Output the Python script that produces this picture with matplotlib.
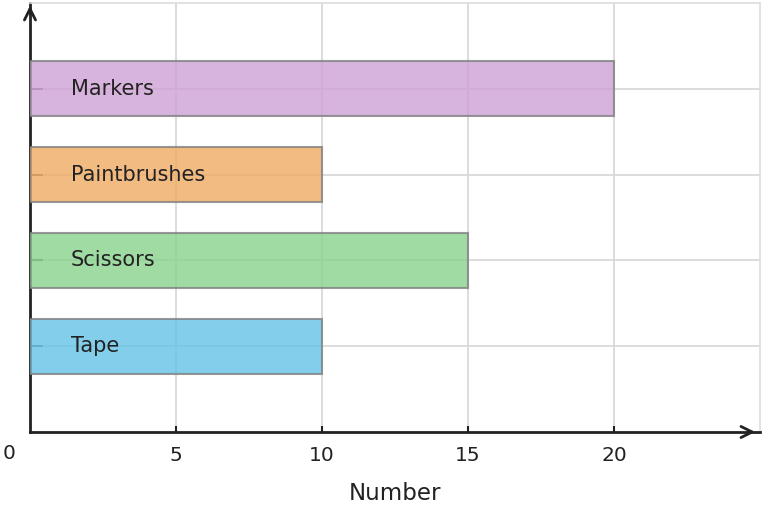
import matplotlib
matplotlib.use("Agg")
import matplotlib.pyplot as plt

# data
items = ["Tape", "Scissors", "Paintbrushes", "Markers"]
counts = [10, 15, 10, 20]
colors = ["#64c4e6", "#88d28c", "#efaa63", "#cea1d6"]
xticks = [5, 10, 15, 20]

fig = plt.figure(figsize=(7.63, 5.08), dpi=100)
ax = fig.add_axes([0.0393, 0.1496, 0.957, 0.8445])

pos = list(range(len(items)))
ax.barh(pos, counts, height=0.64, color=colors, alpha=0.8,
        edgecolor="#808080", linewidth=1.5, zorder=3)

for p, name in zip(pos, items):
    ax.text(1.4, p, name, va="center", ha="left", fontsize=15,
            color="#222222", zorder=4)

ax.set_xlim(0, 25)
ax.set_ylim(-1, 4)
ax.set_xticks(xticks)
ax.set_yticks(pos)
ax.set_yticklabels([])
ax.tick_params(axis="x", direction="in", length=4, width=1.5, colors="#222222",
               labelsize=14.5, pad=10)
ax.tick_params(axis="y", direction="in", length=9, width=1.5, colors="#666666")
ax.grid(True, color="#d9d9d9", linewidth=1.3, zorder=0)
ax.set_axisbelow(True)

for s in ["top", "right"]:
    ax.spines[s].set_color("#dddddd")
    ax.spines[s].set_linewidth(1.2)
for s in ["left", "bottom"]:
    ax.spines[s].set_color("#222222")
    ax.spines[s].set_linewidth(2)

# axis arrows
ax.annotate("", xy=(0.997, 0), xytext=(0.98, 0), xycoords="axes fraction",
            arrowprops=dict(arrowstyle="->", color="#222222", lw=2,
                            mutation_scale=20), annotation_clip=False)
ax.annotate("", xy=(0, 1.0), xytext=(0, 0.97), xycoords="axes fraction",
            arrowprops=dict(arrowstyle="->", color="#222222", lw=2,
                            mutation_scale=20), annotation_clip=False)

ax.text(-0.7, -1.25, "0", ha="center", va="center", fontsize=14.5, color="#222222")
ax.set_xlabel("Number", fontsize=16.5, color="#222222", labelpad=12)

fig.savefig("out.png", dpi=100)
